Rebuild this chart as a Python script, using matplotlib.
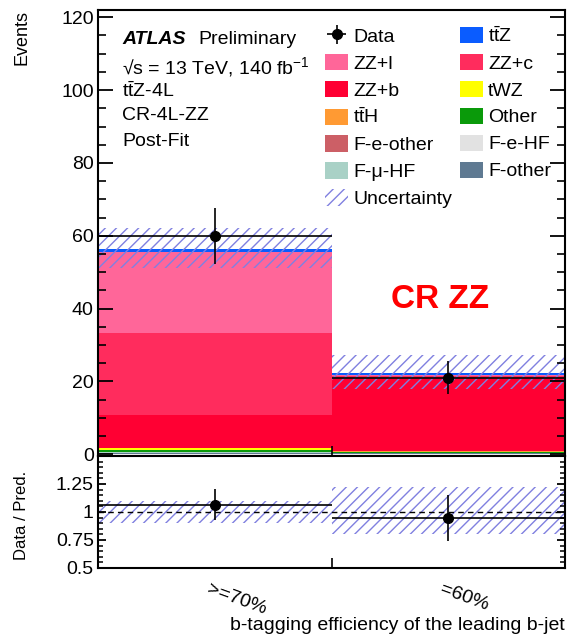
import numpy as np
import matplotlib
matplotlib.use("Agg")
import matplotlib.pyplot as plt
from matplotlib.patches import Patch
from matplotlib.ticker import MultipleLocator, FuncFormatter

plt.rcParams['font.family'] = ['Liberation Sans', 'DejaVu Sans']
plt.rcParams['mathtext.fontset'] = 'custom'
plt.rcParams['mathtext.rm'] = 'Liberation Sans'
plt.rcParams['mathtext.it'] = 'Liberation Sans:italic'
plt.rcParams['mathtext.bf'] = 'Liberation Sans:bold'
plt.rcParams['hatch.linewidth'] = 1.0

bins = ['>=70%', '=60%']

data_counts = [60.0, 21.0]
data_err = [7.75, 4.58]

# post-fit yields per bin, bottom of the stack first
samples = ['F-other', 'F-μ-HF', 'F-e-HF', 'F-e-other', 'Other',
           r'$\mathrm{t\bar{t}H}$', 'tWZ', 'ZZ+b', 'ZZ+c', 'ZZ+l', r'$\mathrm{t\bar{t}Z}$']
yields = {
    'F-other':   [0.45, 0.30],
    'F-mu-HF':   [0.05, 0.03],
    'F-e-HF':    [0.05, 0.03],
    'F-e-other': [0.05, 0.03],
    'Other':     [0.50, 0.30],
    'ttH':       [0.15, 0.05],
    'tWZ':       [0.40, 0.20],
    'ZZ+b':      [9.00, 19.60],
    'ZZ+c':      [22.60, 0.80],
    'ZZ+l':      [22.20, 0.40],
    'ttZ':       [0.90, 0.50],
}
colors = {
    'F-other':   '#5f7a92',
    'F-mu-HF':   '#a9d1c6',
    'F-e-HF':    '#e2e2e2',
    'F-e-other': '#cc5f66',
    'Other':     '#0a9a0a',
    'ttH':       '#ff9a33',
    'tWZ':       '#ffff00',
    'ZZ+b':      '#ff0033',
    'ZZ+c':      '#ff2c5d',
    'ZZ+l':      '#ff6699',
    'ttZ':       '#0a5cff',
}
keys = list(yields.keys())

unc_up = [5.7, 4.9]
unc_down = [5.3, 4.3]

hatch_col = '#8080e0'

fig = plt.figure(figsize=(5.68, 6.34), dpi=100)
ax = fig.add_axes([98 / 568, 1 - 456 / 634, 467 / 568, 446 / 634])
axr = fig.add_axes([98 / 568, 1 - 568 / 634, 467 / 568, 112 / 634], sharex=ax)

x = np.arange(len(bins))
bottom = np.zeros(len(bins))
for k in keys:
    ax.bar(x, yields[k], width=1.0, align='edge', bottom=bottom,
           color=colors[k], linewidth=0)
    bottom = bottom + np.array(yields[k])
total = bottom

up = np.array(unc_up)
down = np.array(unc_down)
ax.bar(x, up + down, width=1.0, align='edge', bottom=total - down,
       fill=False, hatch='///', edgecolor=hatch_col, linewidth=0)

ax.errorbar(x + 0.5, data_counts, xerr=0.5, yerr=data_err, fmt='o',
            color='black', markersize=7, elinewidth=1.2, capsize=0)

# ratio panel
ratio = np.array(data_counts) / total
ratio_err = np.array(data_err) / total
axr.bar(x, (up + down) / total, width=1.0, align='edge', bottom=1 - down / total,
        fill=False, hatch='///', edgecolor=hatch_col, linewidth=0)
axr.axhline(1.0, color='black', lw=1.0, ls=(0, (4, 3)))
axr.errorbar(x + 0.5, ratio, xerr=0.5, yerr=ratio_err, fmt='o',
             color='black', markersize=7, elinewidth=1.2, capsize=0)

ax.set_xlim(0, 2)
ax.set_ylim(-0.5, 122)
axr.set_ylim(0.5, 1.5)

for a in (ax, axr):
    for s in a.spines.values():
        s.set_linewidth(1.5)
    a.set_xticks([0, 1, 2])
    a.tick_params(axis='x', labelbottom=False, direction='in', length=7, width=1.2, top=False)

ax.yaxis.set_major_locator(MultipleLocator(20))
ax.yaxis.set_minor_locator(MultipleLocator(5))
ax.tick_params(axis='y', which='major', direction='in', length=11, width=1.3,
               right=True, labelsize=14, pad=3)
ax.tick_params(axis='y', which='minor', direction='in', length=5.5, width=1.2, right=True)

axr.set_yticks([0.5, 0.75, 1.0, 1.25])
axr.yaxis.set_minor_locator(MultipleLocator(0.05))
axr.yaxis.set_major_formatter(FuncFormatter(lambda v, p: '%g' % v))
axr.tick_params(axis='y', which='major', direction='in', length=6, width=1.3,
                right=True, labelsize=14, pad=3)
axr.tick_params(axis='y', which='minor', direction='in', length=3.5, width=1.1, right=True)

for xi, lab in zip(x, bins):
    axr.text(xi + 0.48, -0.11, lab, transform=axr.get_xaxis_transform(),
             rotation=-20, rotation_mode='anchor', ha='left', va='top', fontsize=14)

fig.text(565 / 568, 1 - 625 / 634, 'b-tagging efficiency of the leading b-jet',
         ha='right', va='center', fontsize=14)
fig.text(22 / 568, 1 - 10 / 634, 'Events', rotation=90, ha='center', va='top', fontsize=13)
fig.text(22 / 568, 1 - 515 / 634, 'Data / Pred.', rotation=90, ha='center', va='center', fontsize=12)

# labels
tx = (122 - 98) / 467
def ay(py):
    return 1 - (py - 10) / 446
ax.text(tx, ay(39), 'ATLAS', transform=ax.transAxes, fontsize=14,
        fontweight='bold', fontstyle='italic', va='center')
ax.text(tx + 76 / 467, ay(39), 'Preliminary', transform=ax.transAxes, fontsize=14, va='center')
ax.text(tx, ay(67), '√s = 13 TeV, 140 fb$^{-1}$', transform=ax.transAxes,
        fontsize=14, va='center')
ax.text(tx, ay(91), r'$\mathrm{t\bar{t}Z}$-4L', transform=ax.transAxes, fontsize=14, va='center')
ax.text(tx, ay(116), 'CR-4L-ZZ', transform=ax.transAxes, fontsize=14, va='center')
ax.text(tx, ay(142), 'Post-Fit', transform=ax.transAxes, fontsize=14, va='center')

ax.text((440 - 98) / 467, ay(299), 'CR ZZ', transform=ax.transAxes, fontsize=24,
        fontweight='bold', color='#ff0000', ha='center', va='center')

# legend, filled column by column
label_of = dict(zip(keys, samples))
data_handle = ax.errorbar([], [], xerr=1, yerr=1, fmt='o', color='black',
                          markersize=7, elinewidth=1.2, capsize=0)
def box(k):
    return Patch(facecolor=colors[k], edgecolor='none')
unc_handle = Patch(facecolor='none', edgecolor=hatch_col, hatch='///', linewidth=0)
col1 = [(data_handle, 'Data'), (box('ZZ+l'), 'ZZ+l'), (box('ZZ+b'), 'ZZ+b'),
        (box('ttH'), label_of['ttH']), (box('F-e-other'), 'F-e-other'),
        (box('F-mu-HF'), label_of['F-mu-HF']), (unc_handle, 'Uncertainty')]
col2 = [(box('ttZ'), label_of['ttZ']), (box('ZZ+c'), 'ZZ+c'), (box('tWZ'), 'tWZ'),
        (box('Other'), 'Other'), (box('F-e-HF'), 'F-e-HF'), (box('F-other'), 'F-other')]
entries = col1 + col2
ax.legend([h for h, _ in entries], [l for _, l in entries], ncol=2,
          loc='upper left', bbox_to_anchor=((325 - 98) / 467, ay(26)),
          frameon=False, fontsize=14, borderpad=0, borderaxespad=0,
          handlelength=1.2, handleheight=0.9, handletextpad=0.25,
          labelspacing=0.42, columnspacing=0.4)

fig.savefig('out.png', dpi=100)
